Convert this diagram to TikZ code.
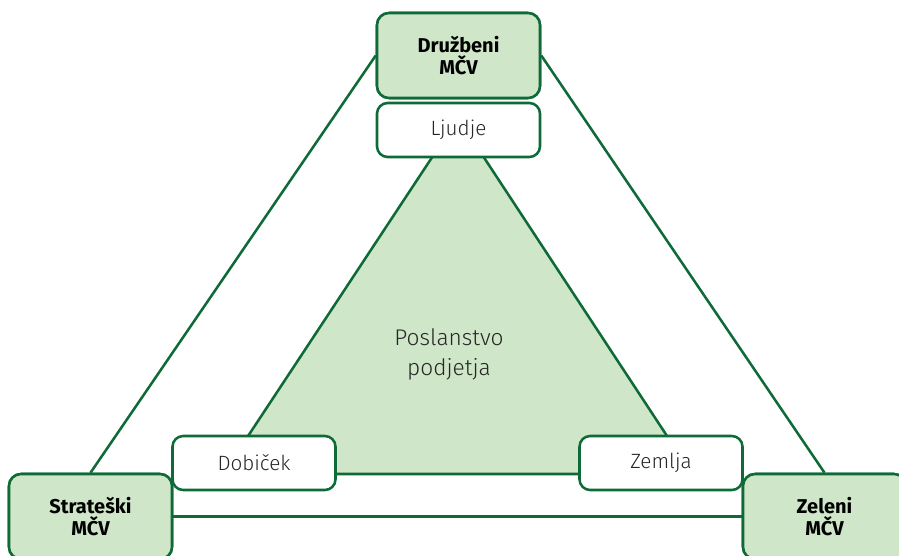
\documentclass[tikz,border=0pt]{standalone}
\usepackage{fontspec}
\setmainfont{Fira Sans}
\newfontfamily\lightfont{Fira Sans Light}
\definecolor{mcvline}{HTML}{0E6B38}
\definecolor{mcvfill}{HTML}{CFE6C8}
\begin{document}
\begin{tikzpicture}[x=0.75pt,y=-0.75pt,
  mcv/.style={draw=mcvline, line width=1.9pt, fill=mcvfill, rounded corners=9pt,
    minimum width=163*0.75pt, minimum height=85*0.75pt, inner sep=0pt,
    align=center, font=\fontsize{15}{17}\selectfont\bfseries},
  value/.style={draw=mcvline, line width=1.9pt, fill=white, rounded corners=8pt,
    minimum width=163*0.75pt, minimum height=54*0.75pt, inner sep=0pt,
    text=black!85, font=\lightfont\fontsize{15.5}{18}\selectfont},
  link/.style={draw=mcvline, line width=1.9pt}]
\useasboundingbox (0,0) rectangle (899,556);
\clip (0,0) rectangle (899,556);

% central mission triangle
\coordinate (tl) at (223,474);
\coordinate (tr) at (692,474);
\coordinate (tt) at (458,118);
\filldraw[fill=mcvfill, draw=mcvline, line width=1.9pt, line join=round] (tl) -- (tr) -- (tt) -- cycle;
\node[align=center, text=black!85, font=\lightfont\fontsize{17}{22.5}\selectfont] (mission) at (449,354) {Poslanstvo\\podjetja};

% the three MČV corners
\node[mcv] (drz) at (458.5,55.5) {Družbeni\\MČV};
\node[mcv] (strat) at (90.5,516.5) {Strateški\\MČV};
\node[mcv] (zel) at (824.5,516.5) {Zeleni\\MČV};

% outer triangle links
\draw[link] (strat.north) -- (drz.west);
\draw[link] (zel.north) -- (drz.east);
\draw[link] (strat.east) -- (zel.west);

% value labels
\node[value] (ljudje) at (458.5,130) {Ljudje};
\node[value] (dobicek) at (254,463) {Dobiček};
\node[value] (zemlja) at (661,463) {Zemlja};

% redraw corner boxes above the links
\node[mcv] at (drz) {Družbeni\\MČV};
\node[mcv] at (strat) {Strateški\\MČV};
\node[mcv] at (zel) {Zeleni\\MČV};
\end{tikzpicture}
\end{document}
